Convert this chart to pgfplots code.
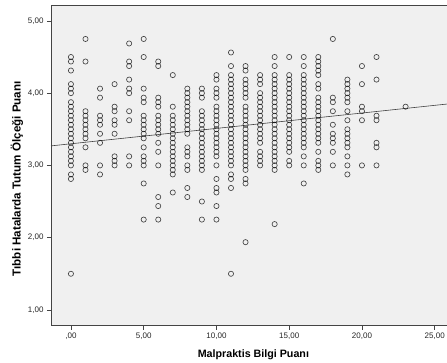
\documentclass[border=0pt]{standalone}
\usepackage{pgfplots}
\pgfplotsset{compat=1.18}
\usepackage{fontspec}
\setmainfont{Liberation Sans}
\definecolor{bg}{HTML}{F0F0F0}
\definecolor{frm}{HTML}{444444}
\begin{document}
\begin{tikzpicture}
\begin{axis}[name=ax, scale only axis, width=404.8pt, height=320.8pt,
 xmin=-1.37, xmax=26.45, ymin=0.78, ymax=5.22,
 axis background/.style={fill=bg},
 axis line style={frm, line width=0.8pt},
 xtick={0,5,10,15,20,25}, xticklabels={{,00},{5,00},{10,00},{15,00},{20,00},{25,00}},
 ytick={1,2,3,4,5}, yticklabels={{1,00},{2,00},{3,00},{4,00},{5,00}},
 tick align=outside, major tick length=4pt, tick style={frm, line width=0.6pt},
 xtick pos=left, ytick pos=left,
 ticklabel style={font=\fontsize{8}{9.6}\selectfont, text=black!85},
 xlabel={Malpraktis Bilgi Puanı}, ylabel={Tıbbi Hatalarda Tutum Ölçeği Puanı},
 xlabel style={font=\fontsize{10.7}{12.8}\selectfont\bfseries, at={(axis description cs:0.5,-0.09)}, anchor=center},
 ylabel style={font=\fontsize{11.6}{13.9}\selectfont\bfseries, at={(axis description cs:-0.084,0.458)}, anchor=center},
]
\addplot[only marks, mark=o, mark size=2.6pt, mark options={draw=black, draw opacity=0.72, line width=0.65pt}] coordinates {
(0,4.5)(0,4.4375)(0,4.3125)(0,4.125)(0,4.0625)(0,4.0)(0,3.875)(0,3.8125)(0,3.75)(0,3.6875)(0,3.625)(0,3.5625)(0,3.5)(0,3.4375)(0,3.375)(0,3.3125)(0,3.25)(0,3.1875)(0,3.125)(0,3.0625)(0,3.0)(0,2.875)(0,2.8125)(0,1.5)
(1,4.75)(1,4.4375)(1,3.75)(1,3.6875)(1,3.625)(1,3.5625)(1,3.5)(1,3.4375)(1,3.375)(1,3.25)(1,3.0)(1,2.9375)
(2,4.0625)(2,3.9375)(2,3.6875)(2,3.625)(2,3.5625)(2,3.4375)(2,3.3125)(2,3.0)(2,2.875)
(3,4.125)(3,3.8125)(3,3.75)(3,3.625)(3,3.5625)(3,3.4375)(3,3.125)(3,3.0625)(3,3.0)
(4,4.6875)(4,4.4375)(4,4.375)(4,4.1875)(4,4.0625)(4,4.0)(4,3.75)(4,3.625)(4,3.125)(4,3.0)
(5,4.75)(5,4.5)(5,4.0625)(5,3.9375)(5,3.875)(5,3.6875)(5,3.625)(5,3.5625)(5,3.5)(5,3.4375)(5,3.375)(5,3.25)(5,3.125)(5,3.0625)(5,3.0)(5,2.75)(5,2.25)
(6,4.4375)(6,4.375)(6,3.9375)(6,3.875)(6,3.8125)(6,3.6875)(6,3.625)(6,3.5625)(6,3.5)(6,3.4375)(6,3.3125)(6,3.1875)(6,3.0)(6,2.5625)(6,2.4375)(6,2.25)
(7,4.25)(7,3.8125)(7,3.6875)(7,3.625)(7,3.5625)(7,3.5)(7,3.4375)(7,3.375)(7,3.3125)(7,3.25)(7,3.1875)(7,3.125)(7,3.0625)(7,3.0)(7,2.9375)(7,2.875)(7,2.625)
(8,4.0625)(8,4.0)(8,3.9375)(8,3.875)(8,3.8125)(8,3.75)(8,3.6875)(8,3.625)(8,3.5625)(8,3.5)(8,3.4375)(8,3.25)(8,3.1875)(8,3.125)(8,3.0)(8,2.9375)(8,2.6875)(8,2.5625)
(9,4.0625)(9,4.0)(9,3.9375)(9,3.75)(9,3.6875)(9,3.625)(9,3.5625)(9,3.5)(9,3.4375)(9,3.375)(9,3.3125)(9,3.25)(9,3.1875)(9,3.125)(9,3.0625)(9,3.0)(9,2.9375)(9,2.5)(9,2.25)
(10,4.25)(10,4.1875)(10,4.0625)(10,4.0)(10,3.9375)(10,3.8125)(10,3.75)(10,3.6875)(10,3.625)(10,3.5625)(10,3.5)(10,3.4375)(10,3.375)(10,3.3125)(10,3.25)(10,3.1875)(10,3.125)(10,3.0)(10,2.8125)(10,2.6875)(10,2.625)(10,2.4375)(10,2.25)
(11,4.5625)(11,4.375)(11,4.25)(11,4.1875)(11,4.125)(11,4.0625)(11,4.0)(11,3.9375)(11,3.875)(11,3.8125)(11,3.75)(11,3.6875)(11,3.625)(11,3.5625)(11,3.5)(11,3.4375)(11,3.375)(11,3.3125)(11,3.25)(11,3.1875)(11,3.125)(11,3.0625)(11,3.0)(11,2.875)(11,2.8125)(11,2.6875)(11,1.5)
(12,4.375)(12,4.3125)(12,4.1875)(12,4.125)(12,4.0625)(12,4.0)(12,3.9375)(12,3.8125)(12,3.75)(12,3.6875)(12,3.625)(12,3.5625)(12,3.5)(12,3.4375)(12,3.375)(12,3.3125)(12,3.25)(12,3.1875)(12,3.125)(12,3.0625)(12,3.0)(12,2.9375)(12,2.8125)(12,2.75)(12,1.9375)
(13,4.25)(13,4.1875)(13,4.125)(13,4.0)(13,3.9375)(13,3.875)(13,3.8125)(13,3.75)(13,3.6875)(13,3.625)(13,3.5625)(13,3.5)(13,3.4375)(13,3.375)(13,3.3125)(13,3.1875)(13,3.125)(13,3.0625)(13,3.0)
(14,4.5)(14,4.375)(14,4.25)(14,4.1875)(14,4.125)(14,4.0625)(14,4.0)(14,3.9375)(14,3.875)(14,3.8125)(14,3.75)(14,3.6875)(14,3.625)(14,3.5625)(14,3.5)(14,3.4375)(14,3.375)(14,3.3125)(14,3.25)(14,3.1875)(14,3.125)(14,3.0625)(14,3.0)(14,2.9375)(14,2.1875)
(15,4.5)(15,4.25)(15,4.1875)(15,4.125)(15,4.0625)(15,4.0)(15,3.9375)(15,3.875)(15,3.8125)(15,3.75)(15,3.6875)(15,3.625)(15,3.5625)(15,3.5)(15,3.4375)(15,3.375)(15,3.3125)(15,3.25)(15,3.1875)(15,3.0625)(15,3.0)
(16,4.5)(16,4.375)(16,4.25)(16,4.1875)(16,4.125)(16,4.0625)(16,4.0)(16,3.9375)(16,3.875)(16,3.8125)(16,3.75)(16,3.6875)(16,3.625)(16,3.5625)(16,3.5)(16,3.4375)(16,3.375)(16,3.3125)(16,3.25)(16,3.125)(16,3.0)(16,2.75)
(17,4.5)(17,4.4375)(17,4.375)(17,4.3125)(17,4.25)(17,4.125)(17,4.0625)(17,3.9375)(17,3.875)(17,3.8125)(17,3.75)(17,3.6875)(17,3.625)(17,3.5625)(17,3.5)(17,3.4375)(17,3.375)(17,3.3125)(17,3.1875)(17,3.0625)(17,3.0)(17,2.9375)
(18,4.75)(18,3.9375)(18,3.875)(18,3.75)(18,3.5625)(18,3.4375)(18,3.375)(18,3.3125)(18,3.1875)(18,3.0)
(19,4.1875)(19,4.125)(19,4.0625)(19,4.0)(19,3.9375)(19,3.875)(19,3.75)(19,3.625)(19,3.5)(19,3.4375)(19,3.375)(19,3.3125)(19,3.25)(19,3.125)(19,3.0)(19,2.875)
(20,4.375)(20,4.125)(20,3.8125)(20,3.75)(20,3.625)(20,3.0)
(21,4.5)(21,4.1875)(21,3.6875)(21,3.625)(21,3.3125)(21,3.25)(21,3.0)
(23,3.8125)
};
\addplot[no marks, black!75, line width=0.6pt] coordinates {(-1.37,3.27) (26.45,3.862)};
\end{axis}
\pgfresetboundingbox
\path[use as bounding box] ([xshift=-51pt,yshift=-37pt]ax.south west) rectangle ([xshift=396pt,yshift=5pt]ax.north west);
\end{tikzpicture}
\end{document}
